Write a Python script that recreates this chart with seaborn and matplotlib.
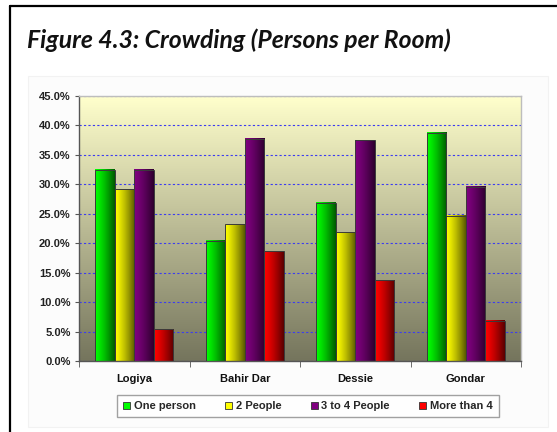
import numpy as np
import pandas as pd
import matplotlib
matplotlib.use("Agg")
import matplotlib.pyplot as plt
import seaborn as sns
from matplotlib.patches import Patch, Rectangle
from matplotlib.lines import Line2D
from matplotlib.colors import to_rgb

# --- data ---
cities = ["Logiya", "Bahir Dar", "Dessie", "Gondar"]
groups = ["One person", "2 People", "3 to 4 People", "More than 4"]
one_person = [32.5, 20.4, 26.9, 38.8]
two_people = [29.2, 23.2, 21.9, 24.7]
three_to_four = [32.5, 37.7, 37.5, 29.6]
more_than_four = [5.4, 18.6, 13.7, 6.8]
y_ticks = [0, 5, 10, 15, 20, 25, 30, 35, 40, 45]

GROUP_COLORS = ["#00FF00", "#FFFF00", "#800080", "#FF0000"]
BG_TOP = "#FFFFCC"
BG_BOTTOM = "#75755D"

df = pd.DataFrame({"city": cities, groups[0]: one_person, groups[1]: two_people,
                   groups[2]: three_to_four, groups[3]: more_than_four})
df_long = df.melt(id_vars="city", var_name="group", value_name="pct")

sns.set_style("white")
plt.rcParams["font.family"] = ["Liberation Sans", "DejaVu Sans"]

W, H = 557, 432
fig = plt.figure(figsize=(W / 100, H / 100), dpi=100)

# faint chart-area panel and the cropped page frame
fig.patches.append(Rectangle((28 / W, 1 - 427 / H), 520 / W, 351 / H, transform=fig.transFigure,
                             facecolor="#fcfcfc", edgecolor="#f2f2f2", lw=0.8, zorder=-5))
fig.add_artist(Line2D([10 / W, 1], [1 - 6 / H, 1 - 6 / H], color="black", lw=1.6))
fig.add_artist(Line2D([10 / W, 10 / W], [0, 1 - 6 / H], color="black", lw=1.6))

ax = fig.add_axes([79 / W, 1 - 361 / H, 442 / W, 265 / H])
ax.set_zorder(2)
ax.set_facecolor("none")

sns.barplot(data=df_long, x="city", y="pct", hue="group", hue_order=groups,
            palette=dict(zip(groups, GROUP_COLORS)), width=0.71, saturation=1,
            edgecolor="#3a3a3a", linewidth=0.7, legend=False, ax=ax)

# horizontal shading inside each bar
t = np.linspace(0, 1, 64)
shade = 1 - 0.65 * t ** 1.3
for bar in ax.patches:
    x0, y0 = bar.get_x(), bar.get_y()
    w, h = bar.get_width(), bar.get_height()
    base = np.array(to_rgb(bar.get_facecolor()))
    img = base[None, None, :] * shade[None, :, None]
    ax.imshow(img, extent=(x0, x0 + w, y0, y0 + h), aspect="auto", zorder=2,
              interpolation="bilinear")
    bar.set_facecolor("none")
    bar.set_zorder(3)

# plot-area vertical gradient
top = np.array(to_rgb(BG_TOP))
bot = np.array(to_rgb(BG_BOTTOM))
s = np.linspace(0, 1, 128)[:, None]
bg = (top * (1 - s) + bot * s)[:, None, :]
ax.imshow(bg, extent=(-0.5, len(cities) - 0.5, 0, y_ticks[-1]), aspect="auto",
          zorder=0, interpolation="bilinear")

ax.set_xlim(-0.5, len(cities) - 0.5)
ax.set_ylim(0, y_ticks[-1])
ax.set_yticks(y_ticks)
ax.set_yticklabels([f"{v:.1f}%" for v in y_ticks])
ax.set_axisbelow(True)
ax.yaxis.grid(True, color="#3c3cf0", linestyle=(0, (2, 2)), lw=0.8)
ax.xaxis.grid(False)

for side in ["left", "bottom"]:
    ax.spines[side].set_color("#555555")
    ax.spines[side].set_linewidth(1.0)
for side in ["top", "right"]:
    ax.spines[side].set_color("#bdbdbd")
    ax.spines[side].set_linewidth(1.0)

ax.tick_params(axis="y", length=3, direction="out", color="#555555", pad=3,
               labelsize=8, labelcolor="#222222", left=True)
for lbl in ax.get_yticklabels():
    lbl.set_fontweight("bold")

ax.set_xticks(np.arange(len(cities)))
ax.set_xticklabels(cities, fontsize=8, fontweight="bold", color="#111111")
ax.set_xticks(np.arange(len(cities) + 1) - 0.5, minor=True)
ax.tick_params(axis="x", which="major", length=0, pad=9)
ax.tick_params(axis="x", which="minor", length=4, direction="out", color="#555555", bottom=True)
ax.set_xlabel("")
ax.set_ylabel("")

handles = [Patch(facecolor=c, edgecolor="#333333", lw=0.6, label=g)
           for g, c in zip(groups, GROUP_COLORS)]
leg = fig.legend(handles=handles, loc="center", bbox_to_anchor=(308 / W, 1 - 406 / H),
                 ncol=4, frameon=True, fancybox=False, edgecolor="#8a8a8a",
                 prop={"weight": "bold", "size": 8}, handlelength=0.6, handleheight=0.6,
                 handletextpad=0.35, columnspacing=2.65, borderpad=0.55)
leg.get_frame().set_linewidth(1.0)

fig.text(27 / W, 1 - 48 / H, "Figure 4.3: Crowding (Persons per Room)", fontsize=17.8,
         fontweight="bold", fontstyle="italic", family=["Lato", "DejaVu Sans"],
         ha="left", va="baseline", color="#111111")

fig.savefig("out.png", dpi=100)
